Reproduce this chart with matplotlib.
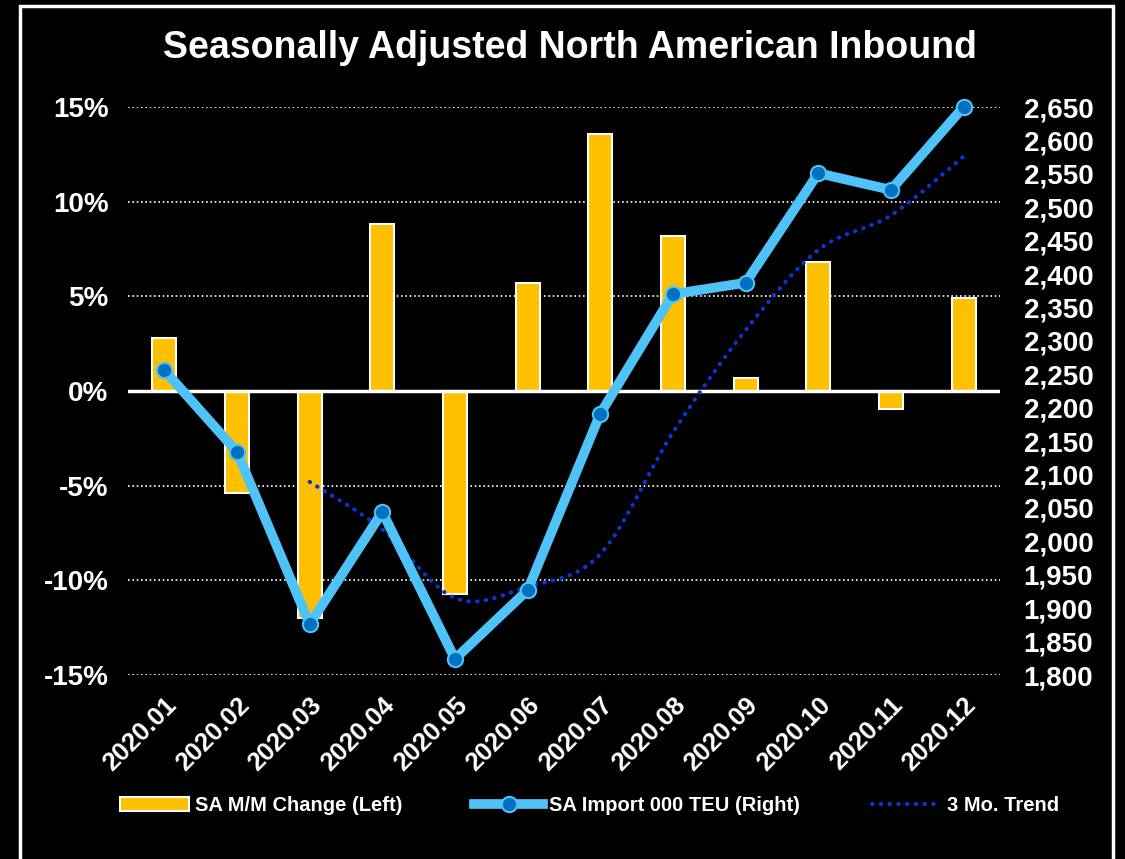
import matplotlib
matplotlib.use("Agg")
import matplotlib.pyplot as plt
import matplotlib.patches as mpatches
from matplotlib.path import Path
from matplotlib.ticker import FuncFormatter, MultipleLocator

plt.rcParams["font.family"] = ["Liberation Sans", "DejaVu Sans"]
plt.rcParams["font.weight"] = "bold"

months = ["2020.01", "2020.02", "2020.03", "2020.04", "2020.05", "2020.06",
          "2020.07", "2020.08", "2020.09", "2020.10", "2020.11", "2020.12"]
mm_change = [2.8, -5.4, -12.0, 8.8, -10.7, 5.7, 13.6, 8.2, 0.7, 6.8, -0.95, 4.9]
teu = [2256, 2134, 1876, 2044, 1824, 1927, 2191, 2370, 2387, 2551, 2526, 2650]
trend_months = months[2:]
trend = [2089, 2018, 1915, 1932, 1981, 2163, 2316, 2436, 2488, 2576]

BG = "black"
GOLD = "#FFC000"
SKY = "#4FC3F7"
NAVY = "#0070C0"
TREND = "#0A36D8"

fig = plt.figure(figsize=(11.25, 8.59), dpi=100)
fig.patch.set_facecolor(BG)
ax = fig.add_axes([0.1138, 0.2142, 0.775, 0.6612])
ax.set_facecolor(BG)
ax2 = ax.twinx()

x = list(range(len(months)))

# bars (left axis)
ax.bar(x, mm_change, width=0.33, color=GOLD, edgecolor="white", linewidth=1.5,
       zorder=3, label="SA M/M Change (Left)")
ax.set_ylim(-15, 15)
ax.set_xlim(-0.5, len(months) - 0.5)
ax.yaxis.set_major_locator(MultipleLocator(5))
ax.yaxis.set_major_formatter(FuncFormatter(lambda v, p: f"{v:.0f}%"))
ax.yaxis.grid(True, color="white", linestyle=(0, (1, 1.6)), linewidth=1.2, zorder=0)
ax.set_axisbelow(True)
ax.axhline(0, color="white", linewidth=2.5, zorder=4)

# smoothed 3 mo trend drawn as bezier path (right axis)
tx = [months.index(m) for m in trend_months]
verts = [(tx[0], trend[0])]
codes = [Path.MOVETO]
for i in range(len(tx) - 1):
    p0 = (tx[i - 1], trend[i - 1]) if i > 0 else (tx[i], trend[i])
    p1 = (tx[i], trend[i])
    p2 = (tx[i + 1], trend[i + 1])
    p3 = (tx[i + 2], trend[i + 2]) if i + 2 < len(tx) else p2
    c1 = (p1[0] + (p2[0] - p0[0]) / 6, p1[1] + (p2[1] - p0[1]) / 6)
    c2 = (p2[0] - (p3[0] - p1[0]) / 6, p2[1] - (p3[1] - p1[1]) / 6)
    verts += [c1, c2, p2]
    codes += [Path.CURVE4] * 3
trend_patch = mpatches.PathPatch(Path(verts, codes), fill=False, edgecolor=TREND,
                                 linewidth=3, linestyle=(0, (0.1, 2.0)),
                                 capstyle="round", zorder=3)
ax2.add_patch(trend_patch)

ax2.plot(x, teu, color=SKY, linewidth=7, marker="o", markersize=11,
         markerfacecolor=NAVY, markeredgecolor=SKY, markeredgewidth=1.5,
         solid_joinstyle="round", zorder=5, clip_on=False,
         label="SA Import 000 TEU (Right)")
ax2.set_ylim(1800, 2650)
ax2.yaxis.set_major_locator(MultipleLocator(50))
ax2.yaxis.set_major_formatter(FuncFormatter(lambda v, p: f"{v:,.0f}"))

for a in (ax, ax2):
    for s in a.spines.values():
        s.set_visible(False)
    a.tick_params(length=0, colors="white")
ax.tick_params(axis="y", labelsize=20, pad=14)
ax2.tick_params(axis="y", labelsize=20, pad=17)

ax.set_xticks(x)
ax.set_xticklabels(months, rotation=45, ha="right", va="top",
                   rotation_mode="anchor", fontsize=18.5)
ax.tick_params(axis="x", pad=13)
for lbl in ax.get_xticklabels():
    lbl.set_x(lbl.get_position()[0])

fig.text(0.507, 0.944, "Seasonally Adjusted North American Inbound", color="white",
         fontsize=27, fontweight="bold", ha="center", va="center")

trend_handle = plt.Line2D([], [], color=TREND, linewidth=3,
                          linestyle=(0, (0.1, 2.0)), dash_capstyle="round")
h1, l1 = ax.get_legend_handles_labels()
h2, l2 = ax2.get_legend_handles_labels()
leg = fig.legend(h1 + h2 + [trend_handle], l1 + l2 + ["3 Mo. Trend"],
                 loc="center", bbox_to_anchor=(0.524, 0.062), ncol=3,
                 frameon=False, fontsize=14.5, handlelength=3.4,
                 columnspacing=3.6, handletextpad=0.3)
for t in leg.get_texts():
    t.set_color("white")

# outer white frame
fig.add_artist(mpatches.Rectangle((20 / 1125, -0.05), 1093 / 1125, 1.05 - 6 / 859,
                                  transform=fig.transFigure, fill=False,
                                  edgecolor="white", linewidth=2.5))

fig.savefig("out.png", dpi=100, facecolor=BG)
